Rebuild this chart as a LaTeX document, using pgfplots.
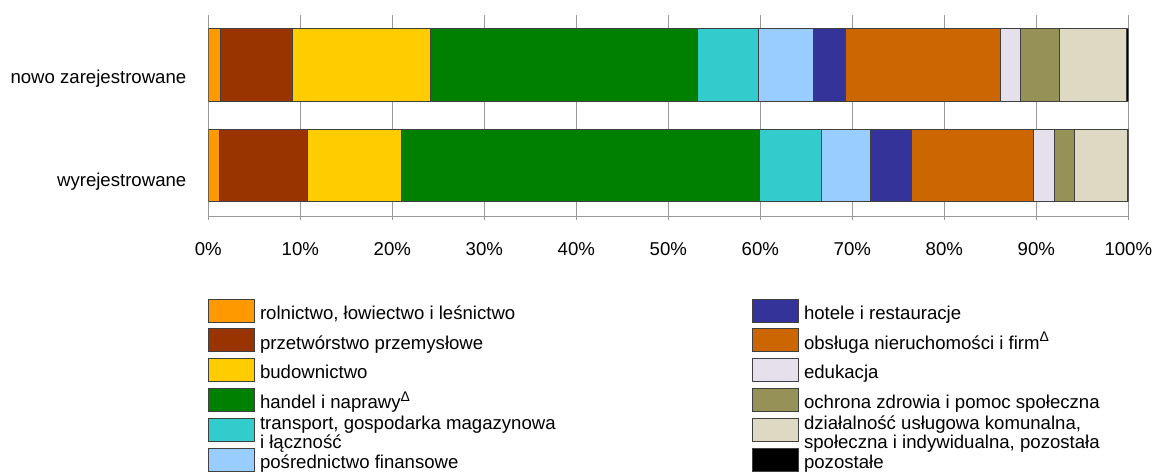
\documentclass[border=0pt]{standalone}
\usepackage{fontspec}
\setmainfont{Liberation Sans}
\usepackage{pgfplots}
\pgfplotsset{compat=1.18}

\definecolor{rol}{HTML}{FF9900}
\definecolor{prz}{HTML}{993300}
\definecolor{bud}{HTML}{FFCC00}
\definecolor{han}{HTML}{008000}
\definecolor{tra}{HTML}{33CCCC}
\definecolor{fin}{HTML}{99CCFF}
\definecolor{hot}{HTML}{333399}
\definecolor{obs}{HTML}{CC6600}
\definecolor{edu}{HTML}{E6E0EC}
\definecolor{och}{HTML}{969157}
\definecolor{dzi}{HTML}{DDD9C3}
\definecolor{poz}{HTML}{000000}

\pgfplotsset{
  boxleg/.style={legend image code/.code={\draw[##1,line width=0.5pt] (0pt,-1.35pt) rectangle (23pt,10.15pt);}},
  seg/.style={fill=#1, draw=black!75, line width=0.5pt, boxleg},
}

\begin{document}
\fontsize{9.3}{11}\selectfont
\begin{tikzpicture}
\path[use as bounding box] (0,0) rectangle (577.5pt,235.5pt);
\begin{axis}[
  at={(104.15pt,127.15pt)}, anchor=south west,
  scale only axis, width=460pt, height=100.85pt,
  xbar stacked, bar width=0.72,
  xmin=0, xmax=100, ymin=-0.517, ymax=1.5,
  xtick={0,10,...,100},
  xticklabels={0\%,10\%,20\%,30\%,40\%,50\%,60\%,70\%,80\%,90\%,100\%},
  ytick={-0.217,0.817},
  yticklabels={wyrejestrowane,nowo zarejestrowane},
  axis line style={draw=none},
  xmajorgrids, grid style={gray!80, line width=0.6pt},
  xtick pos=left, xtick align=outside, major tick length=1.65pt,
  xtick style={gray!80, line width=0.6pt},
  ytick style={draw=none},
  xticklabel style={anchor=base, inner sep=0pt, yshift=-17.6pt},
  yticklabel style={anchor=base east, inner sep=0pt, xshift=-10.8pt},
  extra description/.code={\draw[gray!80, line width=0.6pt] (0,0) -- (1,0);},
  transpose legend, legend columns=6,
  legend style={draw=none, fill=none, inner sep=0pt, outer sep=0pt,
    at={(-0.0005,-0.4056)}, anchor=north west,
    column sep=2.6pt, row sep=2.5pt,
    nodes={inner sep=0pt, text height=8pt, text depth=2pt},
    cells={anchor=base west}},
]
\addplot[seg=rol] coordinates {(1.3,1) (1.2,0)};
\addlegendentry{\makebox[243.3pt][l]{rolnictwo, łowiectwo i leśnictwo}}
\addplot[seg=prz] coordinates {(7.9,1) (9.6,0)};
\addlegendentry{przetwórstwo przemysłowe}
\addplot[seg=bud] coordinates {(15.0,1) (10.2,0)};
\addlegendentry{budownictwo}
\addplot[seg=han] coordinates {(29.0,1) (38.9,0)};
\addlegendentry{handel i naprawy\textsuperscript{\scriptsize Δ}}
\addplot[seg=tra] coordinates {(6.6,1) (6.7,0)};
\addlegendentry{\parbox[c]{200pt}{\fontsize{9.3}{7.4}\selectfont transport, gospodarka magazynowa\\i łączność}}
\addplot[seg=fin] coordinates {(6.0,1) (5.4,0)};
\addlegendentry{pośrednictwo finansowe}
\addplot[seg=hot] coordinates {(3.5,1) (4.4,0)};
\addlegendentry{hotele i restauracje}
\addplot[seg=obs] coordinates {(16.8,1) (13.3,0)};
\addlegendentry{obsługa nieruchomości i firm\textsuperscript{\scriptsize Δ}}
\addplot[seg=edu] coordinates {(2.2,1) (2.3,0)};
\addlegendentry{edukacja}
\addplot[seg=och] coordinates {(4.2,1) (2.2,0)};
\addlegendentry{ochrona zdrowia i pomoc społeczna}
\addplot[seg=dzi] coordinates {(7.3,1) (5.7,0)};
\addlegendentry{\parbox[c]{250pt}{\fontsize{9.3}{7.4}\selectfont działalność usługowa komunalna,\\społeczna i indywidualna, pozostała}}
\addplot[seg=poz] coordinates {(0.2,1) (0.1,0)};
\addlegendentry{pozostałe}
\end{axis}
\end{tikzpicture}
\end{document}
